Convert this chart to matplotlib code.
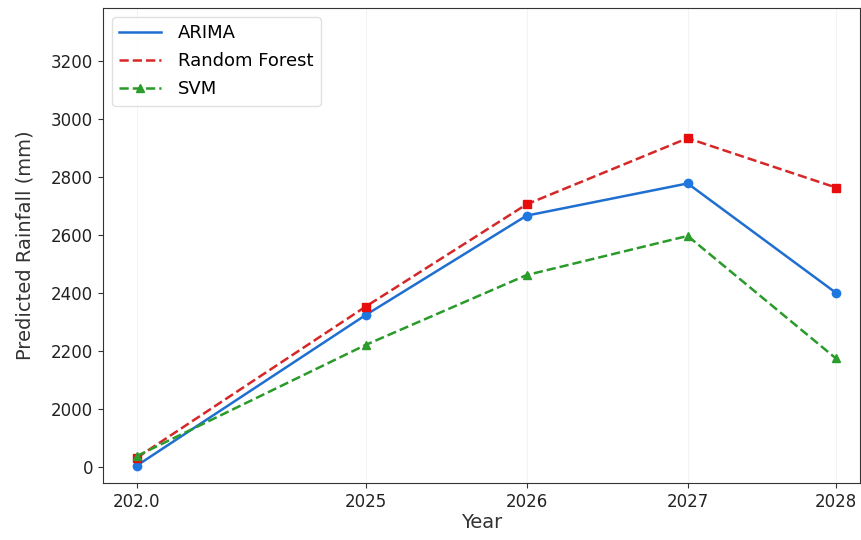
import matplotlib
matplotlib.use('Agg')
from matplotlib import pyplot as plt

# data
years = [2023.58, 2025.0, 2026.0, 2027.0, 2027.92]
year_labels = ['202.0', '2025', '2026', '2027', '2028']
arima = [1805, 2324, 2667, 2778, 2401]
rf = [1832, 2353, 2706, 2934, 2764]
svm = [1838, 2221, 2462, 2597, 2175]
ytick_vals = [1800, 2000, 2200, 2400, 2600, 2800, 3000, 3200]
ytick_labels = ['0', '2000', '2200', '2400', '2600', '2800', '3000', '3200']

plt.rcParams['font.family'] = ['DejaVu Sans']
fig = plt.figure(figsize=(8.62, 5.4), dpi=100)
ax = fig.add_axes([103/862, 57/540, 757/862, 475/540])

ax.plot(years, arima, color='#1f6fd0', linewidth=1.8, label='ARIMA')
ax.plot(years, arima, 'o', color='#1f78e0', markersize=6)
ax.plot(years, rf, '--', color='#d62728', linewidth=1.8, label='Random Forest')
ax.plot(years, rf, 's', color='#e80c0c', markersize=5.5)
ax.plot(years, svm, '--', color='#2a9a2a', linewidth=1.8, marker='^',
        markersize=6, markerfacecolor='#2ca02c', label='SVM')

ax.set_xlim(2023.37, 2028.07)
ax.set_ylim(1745, 3383)
ax.set_xticks(years)
ax.set_xticklabels(year_labels)
ax.set_yticks(ytick_vals)
ax.set_yticklabels(ytick_labels)
ax.tick_params(labelsize=12, colors='#333333', labelcolor='#222222')
ax.xaxis.grid(True, color='#e8eef0', linewidth=0.8, alpha=0.6)
for s in ax.spines.values():
    s.set_color('#333333')

ax.set_xlabel('Year', fontsize=14, color='#333333', labelpad=2)
ax.set_ylabel('Predicted Rainfall (mm)', fontsize=14, color='#333333', labelpad=12)
ax.legend(loc='upper left', fontsize=13, framealpha=0.9, edgecolor='#dddddd',
          handlelength=2.3, handletextpad=0.95, labelspacing=0.56)

fig.savefig('out.png', dpi=100)
